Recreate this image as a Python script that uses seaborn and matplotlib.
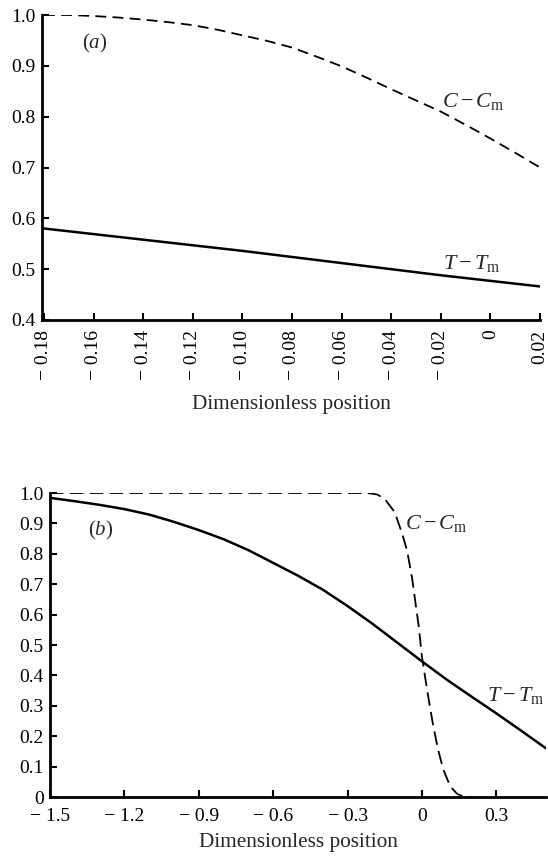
import matplotlib
matplotlib.use("Agg")
import matplotlib.pyplot as plt
import seaborn as sns

# ---------------- data ----------------
# Panel (a)
xa = [-0.18, -0.17, -0.16, -0.15, -0.14, -0.13, -0.12, -0.11, -0.10, -0.09, -0.08,
      -0.07, -0.06, -0.05, -0.04, -0.03, -0.02, -0.01, 0.00, 0.01, 0.02]
ca = [1.000, 1.000, 0.998, 0.995, 0.991, 0.986, 0.980, 0.971, 0.960, 0.949, 0.936,
      0.918, 0.899, 0.877, 0.854, 0.832, 0.810, 0.784, 0.757, 0.729, 0.700]
xa_t = [-0.18, -0.16, -0.14, -0.12, -0.10, -0.08, -0.06, -0.04, -0.02, 0.00, 0.02]
ta = [0.580, 0.569, 0.558, 0.547, 0.536, 0.524, 0.512, 0.500, 0.488, 0.477, 0.466]

# Panel (b)
xb_t = [-1.5, -1.4, -1.3, -1.2, -1.1, -1.0, -0.9, -0.8, -0.7, -0.6, -0.5,
        -0.4, -0.3, -0.2, -0.1, 0.0, 0.1, 0.2, 0.3, 0.4, 0.5]
tb = [0.984, 0.973, 0.961, 0.947, 0.929, 0.905, 0.878, 0.848, 0.812, 0.770, 0.728,
      0.682, 0.628, 0.570, 0.508, 0.446, 0.386, 0.330, 0.275, 0.218, 0.160]
xb_c = [-1.5, -0.5, -0.25, -0.21, -0.18, -0.15, -0.11, -0.08, -0.06, -0.04, -0.013,
        0.0, 0.023, 0.044, 0.065, 0.086, 0.114, 0.142, 0.171, 0.20]
cb = [1.0, 1.0, 1.0, 0.999, 0.995, 0.98, 0.937, 0.866, 0.81, 0.72, 0.56,
      0.46, 0.34, 0.24, 0.155, 0.09, 0.035, 0.01, 0.0, 0.0]

a_xticks = [-0.18, -0.16, -0.14, -0.12, -0.10, -0.08, -0.06, -0.04, -0.02, 0.0, 0.02]
a_xlabels = ["\u2212 0.18", "\u2212 0.16", "\u2212 0.14", "\u2212 0.12", "\u2212 0.10",
             "\u2212 0.08", "\u2212 0.06", "\u2212 0.04", "\u2212 0.02", "0", "0.02"]
a_yticks = [0.4, 0.5, 0.6, 0.7, 0.8, 0.9, 1.0]
a_ylabels = ["0.4", "0.5", "0.6", "0.7", "0.8", "0.9", "1.0"]
b_xticks = [-1.5, -1.2, -0.9, -0.6, -0.3, 0.0, 0.3]
b_xlabels = ["\u2212 1.5", "\u2212 1.2", "\u2212 0.9", "\u2212 0.6", "\u2212 0.3", "0", "0.3"]
b_yticks = [0.0, 0.1, 0.2, 0.3, 0.4, 0.5, 0.6, 0.7, 0.8, 0.9, 1.0]
b_ylabels = ["0", "0.1", "0.2", "0.3", "0.4", "0.5", "0.6", "0.7", "0.8", "0.9", "1.0"]

xlabel_text = "Dimensionless position"
panel_a_label = r"($a$)"
panel_b_label = r"($b$)"
c_label = r"$C-C_{\rm m}$"
t_label = r"$T-T_{\rm m}$"

# ---------------- style ----------------
sns.set_style("ticks")
plt.rcParams['font.family'] = ['Liberation Serif', 'DejaVu Serif']
plt.rcParams['mathtext.fontset'] = 'custom'
plt.rcParams['mathtext.rm'] = 'Liberation Serif'
plt.rcParams['mathtext.it'] = 'Liberation Serif:italic'
plt.rcParams['mathtext.bf'] = 'Liberation Serif:bold'

W, H = 548, 860
fig = plt.figure(figsize=(W / 100, H / 100), dpi=100)
fig.patch.set_facecolor('white')

ax_a = fig.add_axes([42 / W, 1 - 320 / H, (540 - 42) / W, (320 - 15) / H])
ax_b = fig.add_axes([50 / W, 1 - 797 / H, (546 - 50) / W, (797 - 493) / H])


def style_axes(ax):
    for s in ['top', 'right']:
        ax.spines[s].set_visible(False)
    for s in ['left', 'bottom']:
        ax.spines[s].set_linewidth(2.0)
        ax.spines[s].set_color('black')
    ax.tick_params(direction='in', length=5, width=1.5, color='black',
                   labelcolor='black')
    ax.set_facecolor('white')


def fig_text(px, py, s, size, ha='left'):
    fig.text(px / W, 1 - py / H, s, fontsize=size, ha=ha, va='center')


# Panel (a)
sns.lineplot(x=xa, y=ca, ax=ax_a, color='black', linewidth=1.3)
ax_a.lines[-1].set_dashes((6, 3.5))
sns.lineplot(x=xa_t, y=ta, ax=ax_a, color='black', linewidth=1.8)
ax_a.set_xlim(-0.1808, 0.02)
ax_a.set_ylim(0.4, 1.0)
style_axes(ax_a)
ax_a.set_xticks(a_xticks)
ax_a.set_xticklabels(a_xlabels, rotation=90, fontsize=14)
ax_a.set_yticks(a_yticks)
ax_a.set_yticklabels(a_ylabels, fontsize=14)
ax_a.tick_params(axis='x', pad=7)
ax_a.tick_params(axis='y', pad=4.5)
ax_a.set_xlabel(xlabel_text, fontsize=15.3, labelpad=11)
ax_a.set_ylabel("")

# Panel (b)
sns.lineplot(x=xb_c, y=cb, ax=ax_b, color='black', linewidth=1.3)
ax_b.lines[-1].set_dashes((7.5, 3.5))
sns.lineplot(x=xb_t, y=tb, ax=ax_b, color='black', linewidth=1.8)
ax_b.set_xlim(-1.5, 0.5)
ax_b.set_ylim(0.0, 1.0)
style_axes(ax_b)
ax_b.set_xticks(b_xticks)
ax_b.set_xticklabels(b_xlabels, fontsize=14)
ax_b.set_yticks(b_yticks)
ax_b.set_yticklabels(b_ylabels, fontsize=14)
ax_b.tick_params(axis='x', pad=8)
ax_b.tick_params(axis='y', pad=4.5)
ax_b.set_xlabel(xlabel_text, fontsize=15.3, labelpad=6)
ax_b.set_ylabel("")

# annotations (pixel positions measured on the reference)
fig_text(82, 43, panel_a_label, 15)
fig_text(442, 101, c_label, 16)
fig_text(443, 263, t_label, 16)

fig_text(88, 530, panel_b_label, 15)
fig_text(405, 523, c_label, 16)
fig_text(487, 696, t_label, 16)

fig.savefig("out.png", dpi=100, facecolor='white')
